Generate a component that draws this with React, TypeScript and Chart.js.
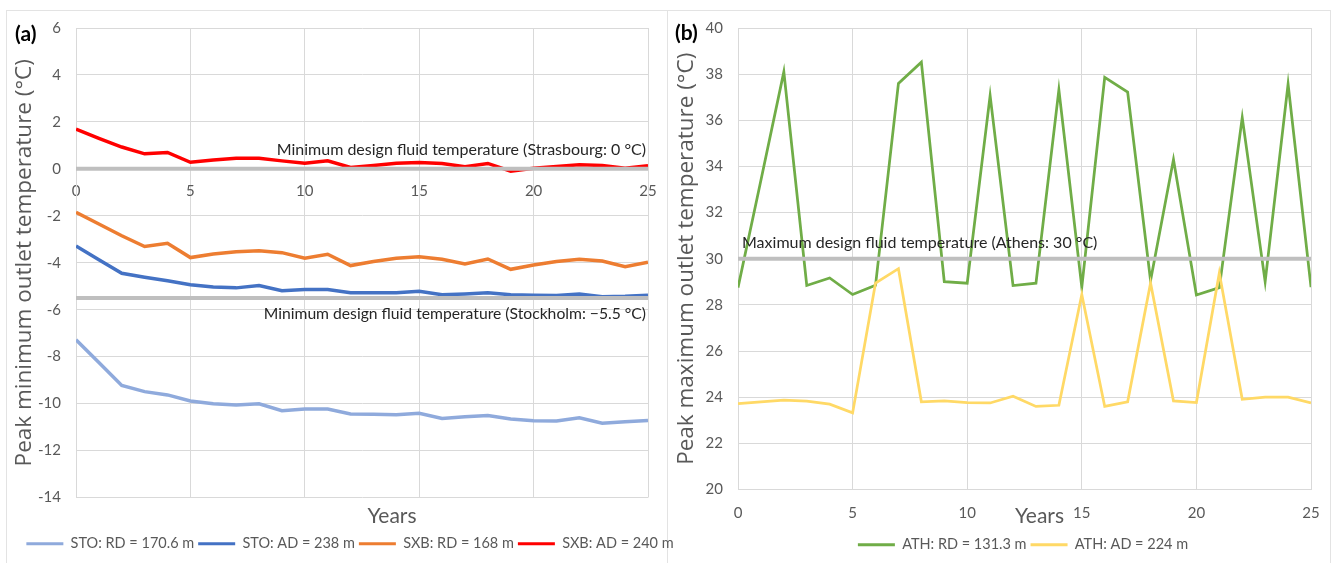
import React, { useEffect, useRef } from 'react';
import { Chart, registerables } from 'chart.js';
Chart.register(...registerables);

// ---------- data ----------
const years = [0, 1, 2, 3, 4, 5, 6, 7, 8, 9, 10, 11, 12, 13, 14, 15, 16, 17, 18, 19, 20, 21, 22, 23, 24, 25];

const stoRD = [-7.28, -8.25, -9.23, -9.49, -9.63, -9.89, -10.01, -10.06, -10.01, -10.30, -10.23, -10.23, -10.44, -10.45, -10.48, -10.41, -10.63, -10.56, -10.51, -10.66, -10.73, -10.74, -10.60, -10.84, -10.77, -10.72];
const stoAD = [-3.29, -3.87, -4.45, -4.62, -4.77, -4.94, -5.03, -5.07, -4.97, -5.19, -5.14, -5.14, -5.28, -5.28, -5.28, -5.21, -5.36, -5.33, -5.28, -5.36, -5.38, -5.40, -5.33, -5.45, -5.43, -5.38];
const sxbRD = [-1.85, -2.35, -2.85, -3.31, -3.17, -3.78, -3.63, -3.53, -3.49, -3.57, -3.81, -3.64, -4.12, -3.95, -3.81, -3.74, -3.85, -4.05, -3.84, -4.28, -4.10, -3.95, -3.85, -3.93, -4.17, -3.98];
const sxbAD = [1.69, 1.30, 0.93, 0.64, 0.70, 0.28, 0.38, 0.45, 0.45, 0.34, 0.24, 0.34, 0.06, 0.14, 0.24, 0.27, 0.23, 0.09, 0.23, -0.10, 0.03, 0.10, 0.17, 0.14, 0.03, 0.13];

const athRD = [28.75, 33.4, 38.1, 28.84, 29.17, 28.45, 28.85, 37.6, 38.52, 29.01, 28.94, 37.07, 28.84, 28.94, 37.32, 28.77, 37.86, 37.22, 29.06, 34.3, 28.43, 28.75, 36.12, 29.01, 37.57, 28.77];
const athAD = [23.72, 23.8, 23.87, 23.83, 23.7, 23.32, 28.95, 29.57, 23.8, 23.84, 23.77, 23.75, 24.04, 23.6, 23.65, 28.45, 23.6, 23.8, 28.95, 23.84, 23.77, 29.38, 23.91, 24.0, 24.0, 23.75];

const designYears = [0, 25];
const strasbourgMin = 0;
const stockholmMin = -5.5;
const athensMax = 30;

const leftLabels = ['STO: RD = 170.6 m', 'STO: AD = 238 m', 'SXB: RD = 168 m', 'SXB: AD = 240 m'];
const rightLabels = ['ATH: RD = 131.3 m', 'ATH: AD = 224 m'];
const strasbourgText = 'Minimum design fluid temperature (Strasbourg: 0 °C)';
const stockholmText = 'Minimum design fluid temperature (Stockholm: \u22125.5 °C)';
const athensText = 'Maximum design fluid temperature (Athens: 30 °C)';
const leftYTitle = 'Peak minimum outlet temperature (°C)';
const rightYTitle = 'Peak maximum outlet temperature (°C)';
const xTitle = 'Years';

// ---------- styling ----------
const GRID = '#D9D9D9';
const TICK = '#595959';
const DESIGN = '#BFBFBF';
const FONT = 'Lato';
const TITLE_FONT = '"Open Sans"';

const pts = (vals: number[]) => years.map((x, i) => ({ x, y: vals[i] }));
const flat = (v: number) => designYears.map((x) => ({ x, y: v }));

const lineDs = (label: string, vals: number[], color: string, width: number, order: number) => ({
  label,
  data: pts(vals),
  borderColor: color,
  backgroundColor: color,
  borderWidth: width,
  pointRadius: 0,
  tension: 0,
  fill: false,
  order,
  xAxisID: 'x',
  yAxisID: 'y',
});

const designDs = (v: number) => ({
  label: '__design',
  data: flat(v),
  borderColor: DESIGN,
  backgroundColor: DESIGN,
  borderWidth: 4,
  pointRadius: 0,
  fill: false,
  order: 0,
  xAxisID: 'x',
  yAxisID: 'y',
});

const legendOpts = {
  position: 'bottom' as const,
  fullSize: true,
  labels: {
    boxWidth: 37,
    boxHeight: 3,
    padding: 4,
    color: TICK,
    font: { family: FONT, size: 14.5 },
    filter: (item: any) => item.text !== '__design',
    sort: (a: any, b: any) => a.datasetIndex - b.datasetIndex,
    generateLabels: (chart: any) =>
      (Chart.defaults.plugins.legend.labels as any)
        .generateLabels(chart)
        .map((l: any) => ({ ...l, lineWidth: 0, fillStyle: l.strokeStyle })),
  },
};

function textPlugin(draw: (chart: any, ctx: CanvasRenderingContext2D) => void) {
  return {
    id: 'panelText' + Math.random().toString(36).slice(2),
    afterDraw(chart: any) {
      const ctx = chart.ctx;
      ctx.save();
      ctx.textBaseline = 'middle';
      draw(chart, ctx);
      ctx.restore();
    },
  };
}

function yTitleOpts(text: string, padTop: number) {
  return {
    display: true,
    text,
    color: TICK,
    font: { family: TITLE_FONT, size: 22.5 },
    padding: { top: padTop, bottom: 0 },
  };
}

// invisible axis that only reserves room on one side of the plot
function spacer(axis: 'x' | 'y', position: string, size: number) {
  return {
    type: 'linear',
    axis,
    position,
    display: true,
    ticks: { display: false },
    grid: { display: false, drawTicks: false },
    border: { display: false },
    afterFit: (s: any) => {
      if (axis === 'x') s.height = size;
      else s.width = size;
      s.paddingTop = 0;
      s.paddingBottom = 0;
      s.paddingLeft = 0;
      s.paddingRight = 0;
    },
  } as any;
}

const yFit = (width: number) => (s: any) => {
  s.width = width;
  s.paddingTop = 0;
  s.paddingBottom = 0;
};

function makeLeft(canvas: HTMLCanvasElement) {
  return new Chart(canvas, {
    type: 'line',
    data: {
      datasets: [
        lineDs(leftLabels[0], stoRD, '#8FAADC', 3.5, 4),
        lineDs(leftLabels[1], stoAD, '#4472C4', 3.5, 3),
        lineDs(leftLabels[2], sxbRD, '#ED7D31', 3.5, 2),
        lineDs(leftLabels[3], sxbAD, '#FF0000', 3.5, 1),
        designDs(strasbourgMin),
        designDs(stockholmMin),
      ] as any,
    },
    options: {
      responsive: false,
      animation: false,
      layout: { padding: { top: 18, right: 0, bottom: 2, left: 0 } },
      plugins: { legend: legendOpts as any, tooltip: { enabled: false } },
      scales: {
        x: {
          type: 'linear',
          position: { y: 0 } as any,
          min: 0,
          max: 25,
          ticks: { stepSize: 5, padding: 13, color: TICK, font: { family: FONT, size: 15 }, maxRotation: 0 },
          grid: { color: GRID, lineWidth: 1, drawTicks: false },
          border: { display: false },
        },
        gapBottom: spacer('x', 'bottom', 35),
        gapRight: spacer('y', 'right', 46),
        y: {
          type: 'linear',
          position: 'left',
          min: -14,
          max: 6,
          ticks: { stepSize: 2, padding: 15, color: TICK, font: { family: FONT, size: 15 } },
          grid: { color: GRID, lineWidth: 1, drawTicks: false },
          border: { display: true, color: GRID },
          title: yTitleOpts(leftYTitle, 5) as any,
          afterFit: yFit(70),
        },
      },
    },
    plugins: [
      textPlugin((chart, ctx) => {
        const ca = chart.chartArea;
        const ys = chart.scales.y;
        ctx.fillStyle = '#000';
        ctx.font = `bold 21px ${FONT}`;
        ctx.textAlign = 'left';
        ctx.fillText('(a)', 9, 24);
        ctx.fillStyle = '#262626';
        ctx.font = `16px ${FONT}`;
        ctx.textAlign = 'right';
        ctx.fillText(strasbourgText, ca.right - 2, ys.getPixelForValue(strasbourgMin) - 19);
        ctx.font = `15.7px ${FONT}`;
        ctx.fillText(stockholmText, ca.right - 2, ys.getPixelForValue(stockholmMin) + 16);
        ctx.fillStyle = TICK;
        ctx.font = `21px ${FONT}`;
        ctx.textAlign = 'center';
        ctx.fillText(xTitle, (ca.left + ca.right) / 2 + 30, ca.bottom + 19);
      }),
    ],
  } as any);
}

function makeRight(canvas: HTMLCanvasElement) {
  return new Chart(canvas, {
    type: 'line',
    data: {
      datasets: [
        lineDs(rightLabels[0], athRD, '#70AD47', 2.75, 2),
        lineDs(rightLabels[1], athAD, '#FFD966', 2.75, 1),
        designDs(athensMax),
      ] as any,
    },
    options: {
      responsive: false,
      animation: false,
      layout: { padding: { top: 18, right: 0, bottom: 1, left: 0 } },
      plugins: { legend: legendOpts as any, tooltip: { enabled: false } },
      scales: {
        x: {
          type: 'linear',
          position: 'bottom',
          min: 0,
          max: 25,
          ticks: { stepSize: 5, padding: 15, color: TICK, font: { family: FONT, size: 15 }, maxRotation: 0 },
          grid: { color: GRID, lineWidth: 1, drawTicks: false },
          border: { display: true, color: GRID },
          afterFit: (s: any) => { s.height = 44; },
        },
        gapRight: spacer('y', 'right', 65),
        y: {
          type: 'linear',
          position: 'left',
          min: 20,
          max: 40,
          ticks: { stepSize: 2, padding: 15, color: TICK, font: { family: FONT, size: 15 } },
          grid: { color: GRID, lineWidth: 1, drawTicks: false },
          border: { display: true, color: GRID },
          title: yTitleOpts(rightYTitle, 3.5) as any,
          afterFit: yFit(68),
        },
      },
    },
    plugins: [
      textPlugin((chart, ctx) => {
        const ca = chart.chartArea;
        const ys = chart.scales.y;
        ctx.fillStyle = '#000';
        ctx.font = `bold 21px ${FONT}`;
        ctx.textAlign = 'left';
        ctx.fillText('(b)', 5, 23);
        ctx.fillStyle = '#262626';
        ctx.font = `16px ${FONT}`;
        ctx.textAlign = 'left';
        ctx.fillText(athensText, ca.left + 4, ys.getPixelForValue(athensMax) - 16);
        ctx.fillStyle = TICK;
        ctx.font = `21px ${FONT}`;
        ctx.textAlign = 'center';
        ctx.fillText(xTitle, (ca.left + ca.right) / 2 + 15, ca.bottom + 27);
      }),
    ],
  } as any);
}

export default function App() {
  const leftRef = useRef<HTMLCanvasElement>(null);
  const rightRef = useRef<HTMLCanvasElement>(null);

  useEffect(() => {
    document.body.style.margin = '0';
    document.body.style.overflow = 'hidden';
    document.body.style.background = '#fff';
    const a = makeLeft(leftRef.current!);
    const b = makeRight(rightRef.current!);
    return () => {
      a.destroy();
      b.destroy();
    };
  }, []);

  return (
    <div style={{ position: 'relative', width: 1331, height: 563, overflow: 'hidden', background: '#fff' }}>
      <div style={{ position: 'absolute', left: 6, top: 10, width: 662, height: 570, border: '1px solid #E3E3E3', boxSizing: 'border-box' }} />
      <div style={{ position: 'absolute', left: 668, top: 10, width: 663, height: 570, borderTop: '1px solid #E3E3E3', borderRight: '1px solid #E3E3E3', boxSizing: 'border-box' }} />
      <canvas ref={leftRef} width={688} height={553} style={{ position: 'absolute', left: 6, top: 10 }} />
      <canvas ref={rightRef} width={706} height={553} style={{ position: 'absolute', left: 670, top: 10 }} />
    </div>
  );
}
